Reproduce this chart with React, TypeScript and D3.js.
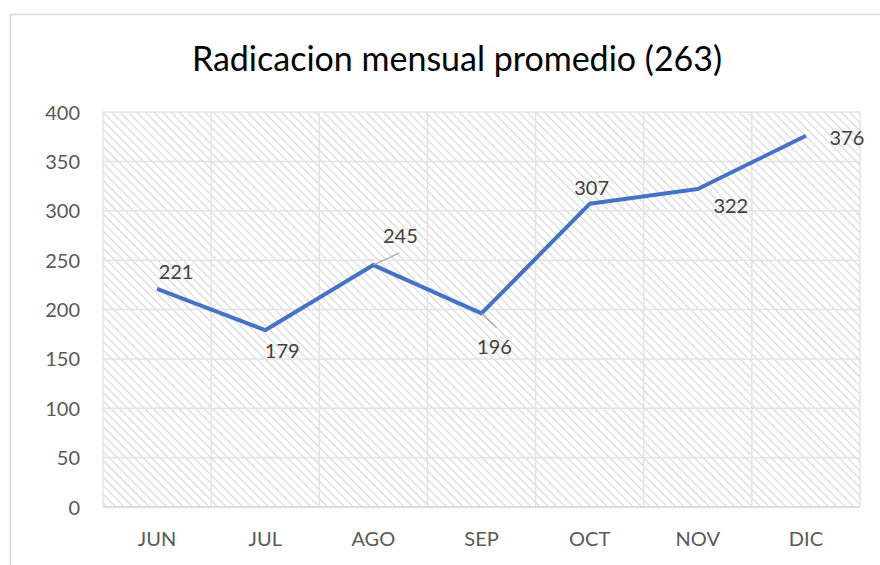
import * as d3 from 'd3';
import { useEffect, useRef } from 'react';

const months = ['JUN', 'JUL', 'AGO', 'SEP', 'OCT', 'NOV', 'DIC'];
const values = [221, 179, 245, 196, 307, 322, 376];
const yTicks = [0, 50, 100, 150, 200, 250, 300, 350, 400];
// label offsets relative to the point (dx, dy to baseline), leader flag
const labelDx = [19, 17, 27, 13, 2, 33, 41];
const labelDy = [-10, 28, -22, 41, -9, 24, 9];
const leaders = [false, false, true, true, false, false, false];

const title = 'Radicacion mensual promedio (263)';

const App = () => {
  const ref = useRef<SVGSVGElement | null>(null);

  useEffect(() => {
    document.body.style.margin = '0';
    if (!ref.current) return;

    const svg = d3.select(ref.current);
    svg.selectAll('*').remove();

    const width = 880;
    const height = 565;
    const plot = { left: 103, right: 860, top: 112, bottom: 507 };
    const font = 'Lato, "Open Sans", sans-serif';

    svg.attr('width', width).attr('height', height);

    const defs = svg.append('defs');
    const pat = defs
      .append('pattern')
      .attr('id', 'hatch')
      .attr('patternUnits', 'userSpaceOnUse')
      .attr('width', 6)
      .attr('height', 6)
      .attr('patternTransform', 'rotate(45)');
    pat.append('rect').attr('width', 6).attr('height', 6).attr('fill', '#fff');
    pat
      .append('line')
      .attr('x1', 0)
      .attr('y1', 0)
      .attr('x2', 6)
      .attr('y2', 0)
      .attr('stroke', '#d6d6d6')
      .attr('stroke-width', 2.2);

    // outer chart frame
    svg
      .append('path')
      .attr('d', `M10.5,${height} V14.5 H${width}`)
      .attr('fill', 'none')
      .attr('stroke', '#d9d9d9')
      .attr('stroke-width', 1.5);

    svg
      .append('text')
      .attr('x', 457)
      .attr('y', 71)
      .attr('text-anchor', 'middle')
      .attr('font-family', font)
      .attr('font-size', 34)
      .attr('fill', '#000')
      .text(title);

    const x = d3
      .scaleBand<string>()
      .domain(months)
      .range([plot.left, plot.right]);
    const y = d3.scaleLinear().domain([0, 400]).range([plot.bottom, plot.top]);

    const g = svg.append('g');

    g.append('rect')
      .attr('x', plot.left)
      .attr('y', plot.top)
      .attr('width', plot.right - plot.left)
      .attr('height', plot.bottom - plot.top)
      .attr('fill', 'url(#hatch)');

    // horizontal gridlines
    g.selectAll('line.hgrid')
      .data(yTicks)
      .enter()
      .append('line')
      .attr('class', 'hgrid')
      .attr('x1', plot.left)
      .attr('x2', plot.right)
      .attr('y1', d => y(d))
      .attr('y2', d => y(d))
      .attr('stroke', '#e3e3e3')
      .attr('stroke-width', 1.5);

    // vertical gridlines at category boundaries
    const bounds = months.map(m => x(m) as number).concat([plot.right]);
    g.selectAll('line.vgrid')
      .data(bounds)
      .enter()
      .append('line')
      .attr('class', 'vgrid')
      .attr('x1', d => d)
      .attr('x2', d => d)
      .attr('y1', plot.top)
      .attr('y2', plot.bottom)
      .attr('stroke', '#e3e3e3')
      .attr('stroke-width', 1.5);

    // axis baseline
    g.append('line')
      .attr('x1', plot.left)
      .attr('x2', plot.right)
      .attr('y1', plot.bottom)
      .attr('y2', plot.bottom)
      .attr('stroke', '#d9d9d9')
      .attr('stroke-width', 1.5);

    g.selectAll('text.ytick')
      .data(yTicks)
      .enter()
      .append('text')
      .attr('class', 'ytick')
      .attr('x', 80)
      .attr('y', d => y(d) + 7.5)
      .attr('text-anchor', 'end')
      .attr('font-family', font)
      .attr('font-size', 20)
      .attr('fill', '#595959')
      .text(d => d);

    const cx = (m: string) => (x(m) as number) + x.bandwidth() / 2;

    g.selectAll('text.xtick')
      .data(months)
      .enter()
      .append('text')
      .attr('class', 'xtick')
      .attr('x', d => cx(d))
      .attr('y', 546)
      .attr('text-anchor', 'middle')
      .attr('font-family', font)
      .attr('font-size', 20)
      .attr('fill', '#595959')
      .text(d => d);

    const line = d3
      .line<number>()
      .x((_, i) => cx(months[i]))
      .y(d => y(d));

    g.append('path')
      .datum(values)
      .attr('d', line)
      .attr('fill', 'none')
      .attr('stroke', '#4472c4')
      .attr('stroke-width', 4)
      .attr('stroke-linejoin', 'round');

    // leader lines
    values.forEach((v, i) => {
      if (!leaders[i]) return;
      const px = cx(months[i]);
      const py = y(v);
      const up = labelDy[i] < 0;
      g.append('line')
        .attr('x1', px)
        .attr('y1', py)
        .attr('x2', px + (up ? 26 : 15))
        .attr('y2', py + (up ? -12 : 14))
        .attr('stroke', '#a6a6a6')
        .attr('stroke-width', 1.2);
    });

    g.selectAll('text.lbl')
      .data(values)
      .enter()
      .append('text')
      .attr('class', 'lbl')
      .attr('x', (d, i) => cx(months[i]) + labelDx[i])
      .attr('y', (d, i) => y(d) + labelDy[i])
      .attr('text-anchor', 'middle')
      .attr('font-family', font)
      .attr('font-size', 20)
      .attr('fill', '#404040')
      .text(d => d);
  }, []);

  return <svg ref={ref} style={{ display: 'block' }} />;
};

export default App;
